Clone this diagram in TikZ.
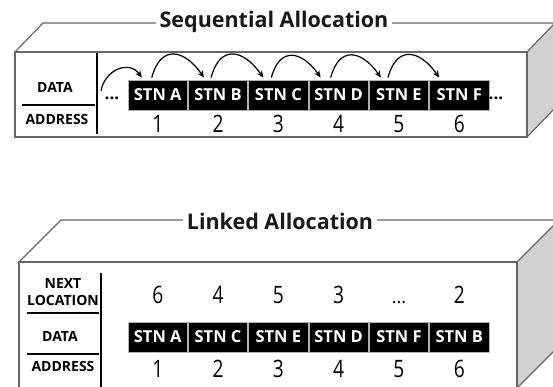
\documentclass[tikz,border=0pt]{standalone}
\usepackage{fontspec}
\setmainfont{Open Sans}
\newfontfamily\numfont[FakeStretch=0.8]{Open Sans}
\usetikzlibrary{positioning,arrows.meta}
\tikzset{
>={Stealth[length=7pt,width=6pt]},
frame/.style={draw=gray!80!black, line width=1.2pt},
side/.style={frame, fill=gray!35},
rule/.style={draw=black, line width=2pt},
title/.style={fill=white, inner xsep=4pt, inner ysep=1pt, text=black!90, font=\bfseries\fontsize{21.5}{23}\selectfont},
}

\begin{document}
\begin{tikzpicture}
    [x=1pt, y=1pt,
    node distance=0pt,
    cell/.style={draw=gray!60, fill=black, text=white, line width=0.8pt, inner sep=0pt,
        minimum width=59.5pt, minimum height=30pt, font=\bfseries\fontsize{16.5}{18}\selectfont},
    num/.style={inner sep=0pt, font=\numfont\fontsize{24}{24}\selectfont},
    lbl/.style={inner sep=0pt, align=center, font=\bfseries\fontsize{14}{17}\selectfont},
    dots/.style={inner sep=0pt, font=\bfseries\fontsize{17}{18}\selectfont}
    ]
    \useasboundingbox (0,0) rectangle (553,387);
    \clip (0,0) rectangle (553,387);

    \draw[side] (527,335) -- (555,364) -- (555,279) -- (527,250) -- cycle;
    \draw[frame] (15,250) rectangle (527,335);
    \draw[frame] (15,335) -- (43,364) -- (560,364);
    \node [title, anchor=base] (seqtitle) at (274,359) {Sequential Allocation};

    \draw[rule] (97,334) -- (97,253);
    \draw[rule] (22,282) -- (95,282);
    \node [lbl] (sdata) at (55,300) {DATA};
    \node [lbl] (saddr) at (57,267) {ADDRESS};

    \node [cell] (s1) at (157.75,292) {STN A};
    \node [cell, right=of s1] (s2) {STN B};
    \node [cell, right=of s2] (s3) {STN C};
    \node [cell, right=of s3] (s4) {STN D};
    \node [cell, right=of s4] (s5) {STN E};
    \node [cell, right=of s5] (s6) {STN F};

    \node [num, below=5pt of s1] (sa1) {1};
    \node [num, below=5pt of s2] (sa2) {2};
    \node [num, below=5pt of s3] (sa3) {3};
    \node [num, below=5pt of s4] (sa4) {4};
    \node [num, below=5pt of s5] (sa5) {5};
    \node [num, below=5pt of s6] (sa6) {6};

    \node [dots, anchor=base] (sleft) at (112,287) {...};
    \node [dots, anchor=base] (sright) at (496,287) {...};

    \coordinate (sstart) at (101,296);
    \draw[->, line width=1.2pt] (sstart) to[out=80, in=125, looseness=1.3] ([xshift=-16pt, yshift=2pt]s1.north);
    \draw[->, line width=1.2pt] ([xshift=-6pt, yshift=2pt]s1.north) to[out=75, in=125, looseness=1.7] ([xshift=-14pt, yshift=2pt]s2.north);
    \draw[->, line width=1.2pt] ([xshift=-7pt, yshift=2pt]s2.north) to[out=75, in=125, looseness=1.7] ([xshift=-15pt, yshift=2pt]s3.north);
    \draw[->, line width=1.2pt] ([xshift=-7pt, yshift=2pt]s3.north) to[out=75, in=125, looseness=1.7] ([xshift=-18pt, yshift=2pt]s4.north);
    \draw[->, line width=1.2pt] ([xshift=-8pt, yshift=2pt]s4.north) to[out=75, in=125, looseness=1.7] ([xshift=-18pt, yshift=2pt]s5.north);
    \draw[->, line width=1.2pt] ([xshift=-11pt, yshift=2pt]s5.north) to[out=75, in=125, looseness=1.7] ([xshift=-20pt, yshift=2pt]s6.north);

    \draw[side] (517,125) -- (559,167) -- (559,41) -- (517,-1) -- cycle;
    \draw[frame] (19,-1) rectangle (517,125);
    \draw[frame] (19,125) -- (61,167) -- (560,167);
    \node [title, anchor=base] (lnktitle) at (280,157) {Linked Allocation};

    \draw[rule] (101,114) -- (101,-2);
    \draw[rule] (27,74) -- (99,74);
    \draw[rule] (27,33) -- (99,33);
    \node [lbl] (knext) at (63,95) {NEXT\\LOCATION};
    \node [lbl] (kdata) at (60,51) {DATA};
    \node [lbl] (kaddr) at (63,20) {ADDRESS};

    \node [cell] (k1) at (157.75,50) {STN A};
    \node [cell, right=of k1] (k2) {STN C};
    \node [cell, right=of k2] (k3) {STN E};
    \node [cell, right=of k3] (k4) {STN D};
    \node [cell, right=of k4] (k5) {STN F};
    \node [cell, right=of k5] (k6) {STN B};

    \node [num, above=18pt of k1] (nx1) {6};
    \node [num, above=18pt of k2] (nx2) {4};
    \node [num, above=18pt of k3] (nx3) {5};
    \node [num, above=18pt of k4] (nx4) {3};
    \node [dots, font=\fontsize{18}{18}\selectfont, above=18pt of k5] (nx5) {...};
    \node [num, above=18pt of k6] (nx6) {2};

    \node [num, below=8pt of k1] (ka1) {1};
    \node [num, below=8pt of k2] (ka2) {2};
    \node [num, below=8pt of k3] (ka3) {3};
    \node [num, below=8pt of k4] (ka4) {4};
    \node [num, below=8pt of k5] (ka5) {5};
    \node [num, below=8pt of k6] (ka6) {6};

\end{tikzpicture}
\end{document}
